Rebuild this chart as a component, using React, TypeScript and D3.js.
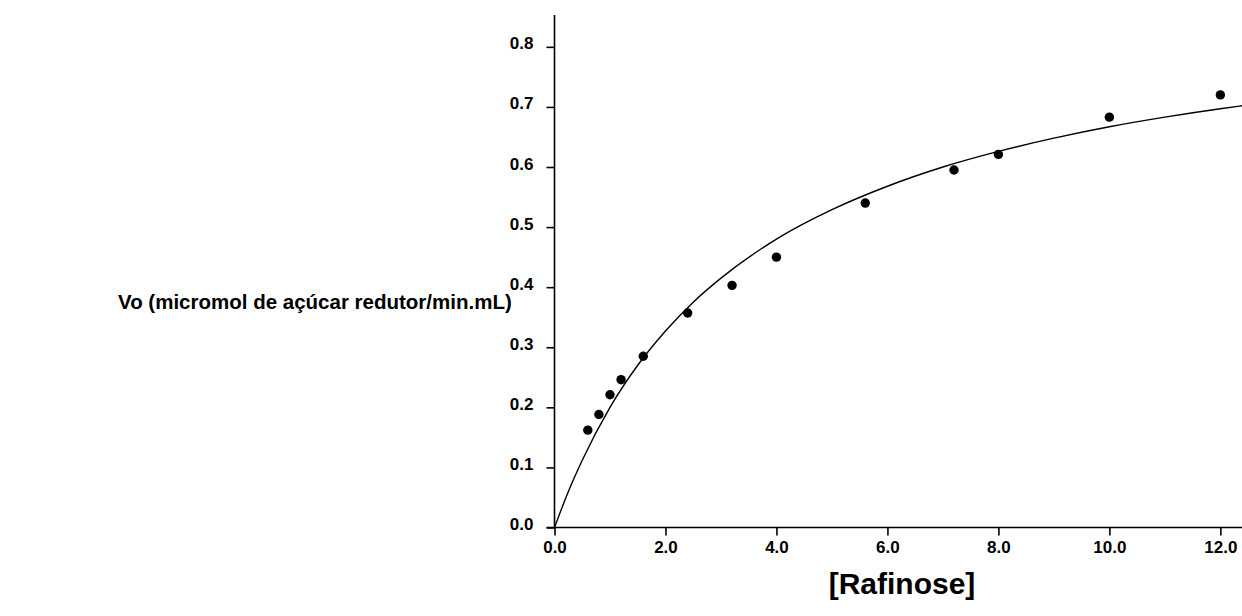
import React, { useEffect, useRef } from "react";
import * as d3 from "d3";

// Observed data: substrate concentration [Rafinose] vs initial velocity Vo
const rafinose = [0.6, 0.8, 1.0, 1.2, 1.6, 2.4, 3.2, 4.0, 5.6, 7.2, 8.0, 10.0, 12.0];
const vo = [0.162, 0.188, 0.221, 0.246, 0.285, 0.357, 0.403, 0.45, 0.54, 0.595, 0.621, 0.683, 0.72];

// Fitted curve
const fitX = [0, 0.25, 0.5, 1, 1.5, 2, 2.5, 3, 4, 5, 6, 7, 8, 9, 10, 11, 12, 12.4];
const fitY = [0, 0.06, 0.112, 0.2, 0.27, 0.327, 0.375, 0.415, 0.48, 0.529, 0.568, 0.6, 0.626, 0.648, 0.667, 0.683, 0.697, 0.702];

const xMajor = [0, 2, 4, 6, 8, 10, 12];
const xMinor = [1, 3, 5, 7, 9, 11];
const yMajor = [0, 0.1, 0.2, 0.3, 0.4, 0.5, 0.6, 0.7, 0.8];
const yMinor = [0.05, 0.15, 0.25, 0.35, 0.45, 0.55, 0.65, 0.75];

const xTitle = "[Rafinose]";
const yTitle = "Vo (micromol de açúcar redutor/min.mL)";

const W = 1242;
const H = 616;
const FONT = "'Liberation Sans', Arial, sans-serif";

export default function App() {
  const ref = useRef<SVGSVGElement | null>(null);

  useEffect(() => {
    const svg = d3.select(ref.current);
    svg.selectAll("*").remove();

    const x = d3.scaleLinear().domain([0, 12.39]).range([554.5, 1242]);
    const y = d3.scaleLinear().domain([0, 0.853]).range([527.5, 15]);

    // x axis
    const gx = svg.append("g").attr("transform", `translate(0,${y(0)})`);
    gx.call(
      d3.axisBottom(x).tickValues(xMinor).tickSize(5).tickFormat(() => "")
    );
    gx.call(
      d3.axisBottom(x).tickValues(xMajor).tickSize(8).tickPadding(5).tickFormat(d3.format(".1f"))
    );
    gx.selectAll(".domain").remove();
    gx.append("line")
      .attr("x1", x(0) - 8)
      .attr("x2", W)
      .attr("stroke", "#000")
      .attr("stroke-width", 1.6);
    gx.selectAll("line").attr("stroke-width", 1.6);
    gx.selectAll("text")
      .attr("font-family", FONT)
      .attr("font-weight", "bold")
      .attr("font-size", 17)
      .attr("fill", "#000");

    // y axis
    const gy = svg.append("g").attr("transform", `translate(${x(0)},0)`);
    gy.call(d3.axisLeft(y).tickValues(yMinor).tickSize(5).tickFormat(() => ""));
    gy.call(
      d3.axisLeft(y).tickValues(yMajor).tickSize(8).tickPadding(13).tickFormat(d3.format(".1f"))
    );
    gy.selectAll(".domain").remove();
    gy.append("line")
      .attr("y1", y(0))
      .attr("y2", 15)
      .attr("stroke", "#000")
      .attr("stroke-width", 1.6);
    gy.selectAll("line").attr("stroke-width", 1.6);
    gy.selectAll("text")
      .attr("font-family", FONT)
      .attr("font-weight", "bold")
      .attr("font-size", 17)
      .attr("dy", "0.12em")
      .attr("fill", "#000");

    // fitted curve
    const line = d3
      .line<number>()
      .x((d, i) => x(fitX[i]))
      .y((d) => y(d))
      .curve(d3.curveMonotoneX);
    svg
      .append("path")
      .attr("d", line(fitY) || "")
      .attr("fill", "none")
      .attr("stroke", "#000")
      .attr("stroke-width", 1.4);

    // points
    svg
      .append("g")
      .selectAll("circle")
      .data(vo)
      .join("circle")
      .attr("cx", (d, i) => x(rafinose[i]))
      .attr("cy", (d) => y(d))
      .attr("r", 4.7)
      .attr("fill", "#000");

    // titles
    svg
      .append("text")
      .attr("x", 118)
      .attr("y", 309)
      .attr("font-family", FONT)
      .attr("font-weight", "bold")
      .attr("font-size", 20.5)
      .attr("fill", "#000")
      .text(yTitle);

    svg
      .append("text")
      .attr("x", 902)
      .attr("y", 594)
      .attr("text-anchor", "middle")
      .attr("font-family", FONT)
      .attr("font-weight", "bold")
      .attr("font-size", 30)
      .attr("fill", "#000")
      .text(xTitle);
  }, []);

  return (
    <svg
      ref={ref}
      width={W}
      height={H}
      style={{ position: "absolute", left: 0, top: 0, background: "#fff" }}
    />
  );
}
